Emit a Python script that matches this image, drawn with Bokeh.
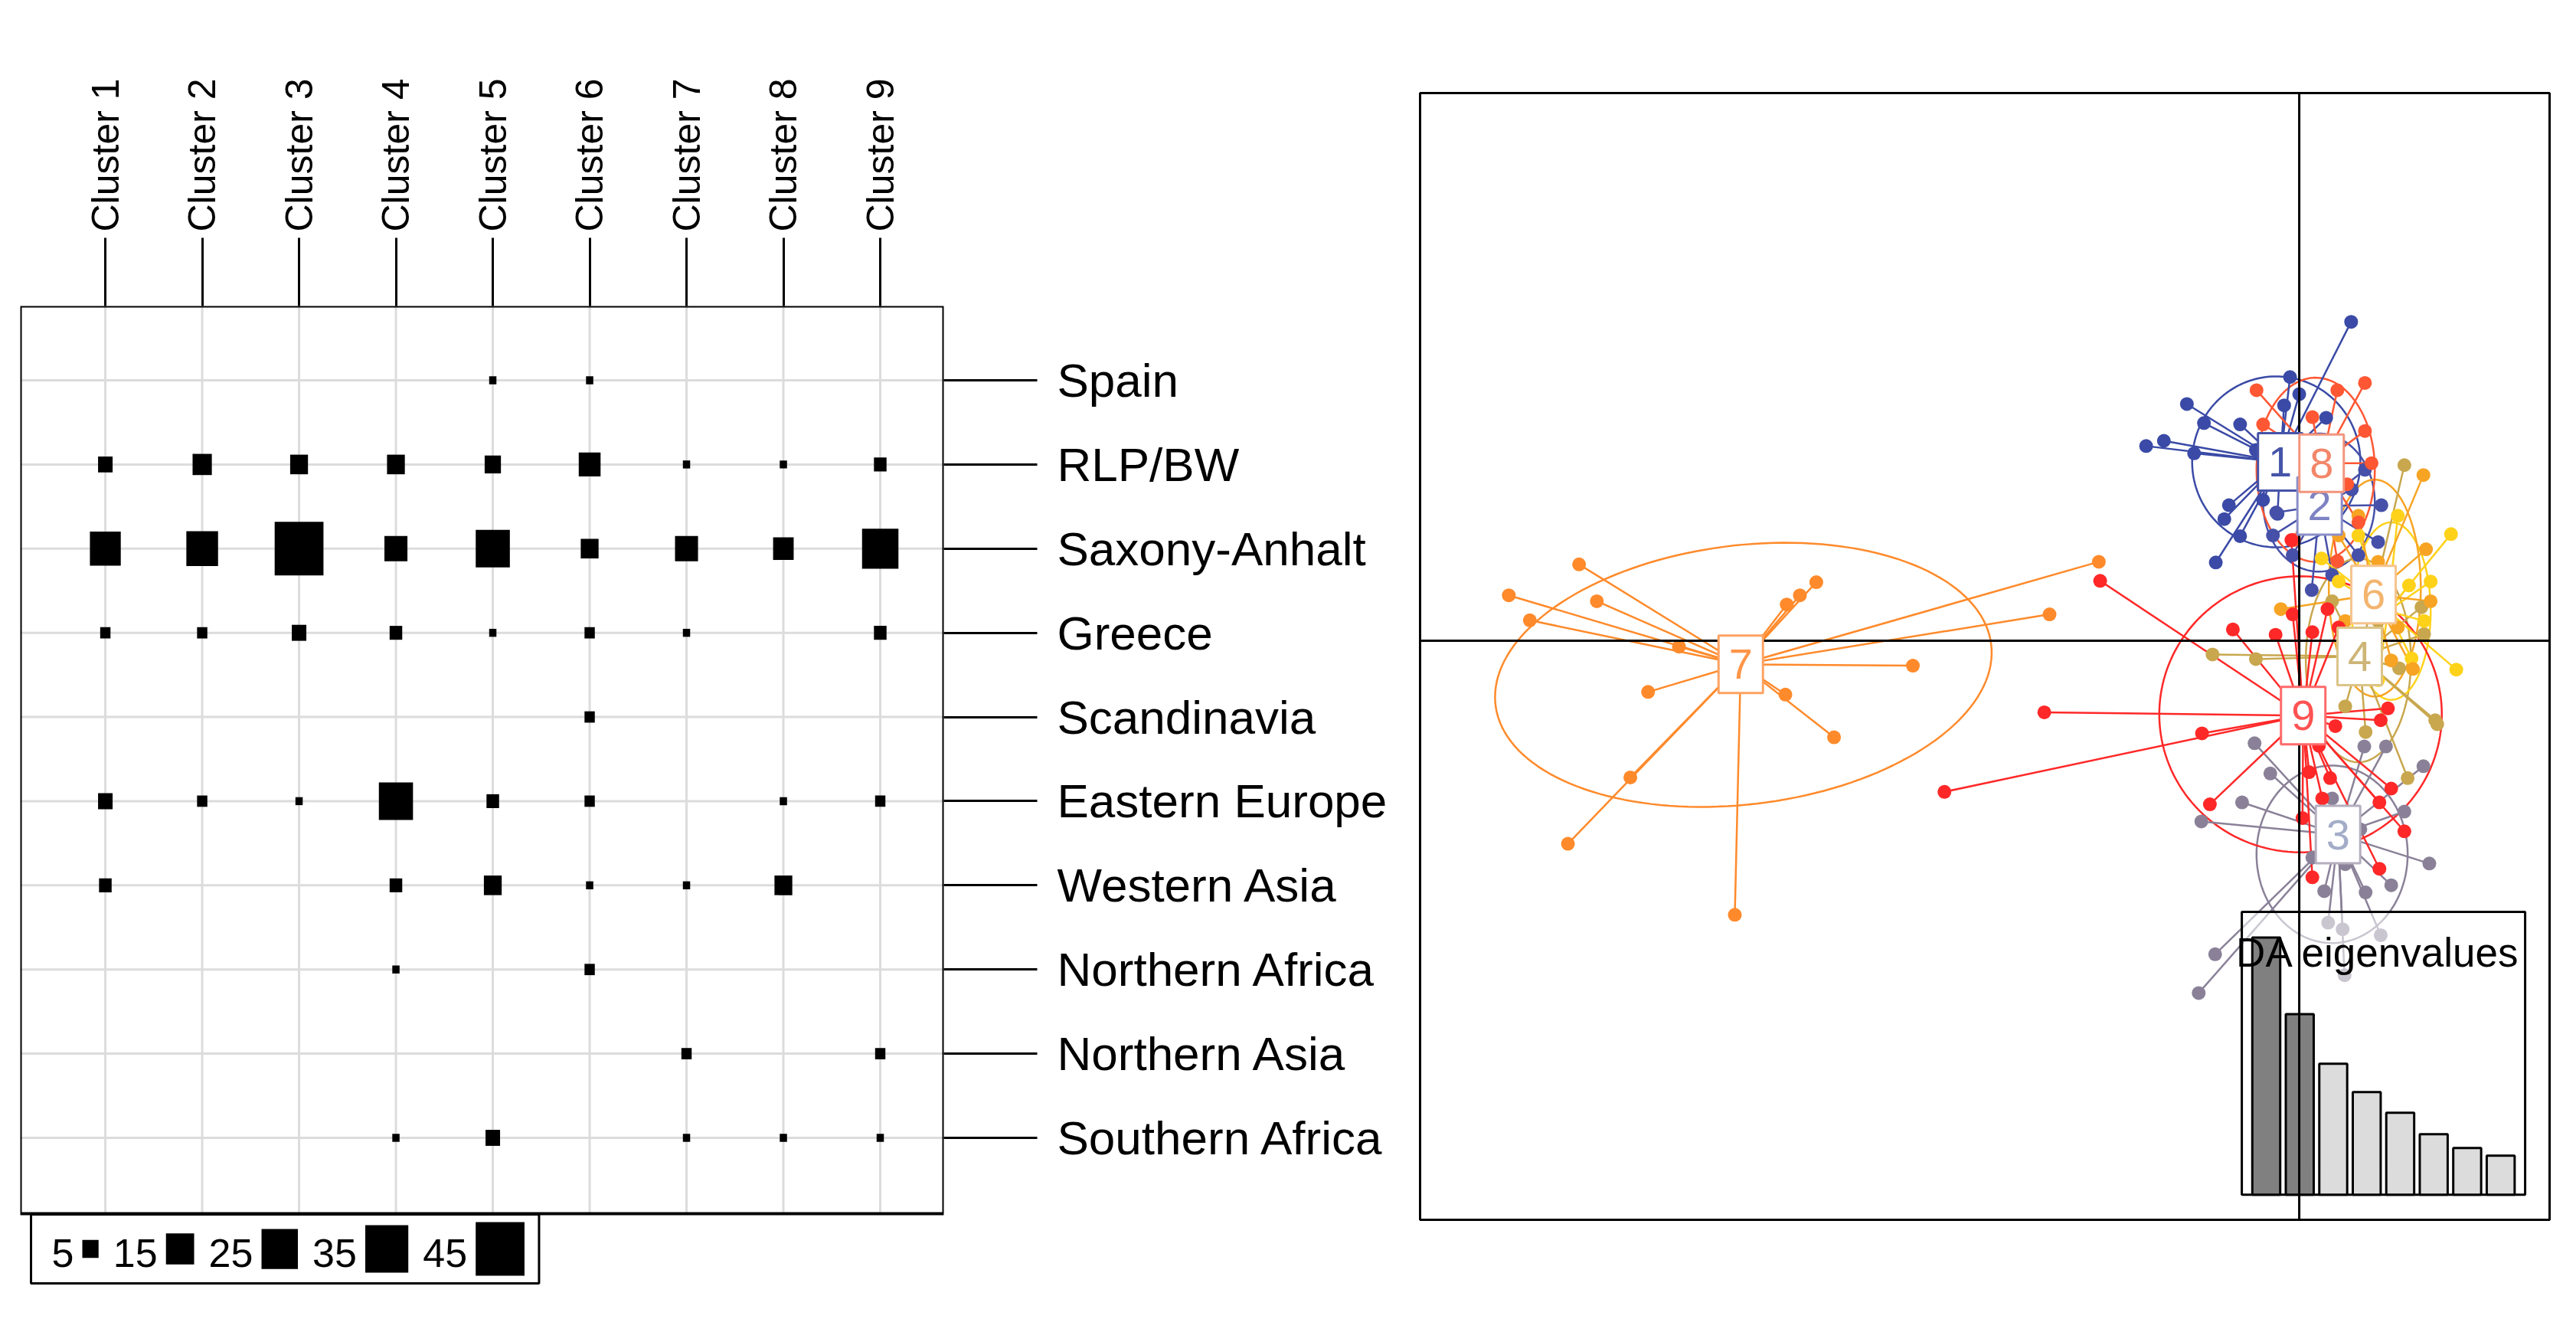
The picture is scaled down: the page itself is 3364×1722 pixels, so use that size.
import math
import numpy as np
from bokeh.plotting import figure
from bokeh.models import Range1d, FixedTicker, LinearAxis, ColumnDataSource
from bokeh.layouts import row, column
from bokeh.embed import file_html
from bokeh.resources import INLINE
from bokeh.core.properties import value

FONT = "Liberation Sans"

# ---------------- left panel: cluster membership table ----------------
clusters = ["Cluster 1", "Cluster 2", "Cluster 3", "Cluster 4", "Cluster 5",
            "Cluster 6", "Cluster 7", "Cluster 8", "Cluster 9"]
regions = ["Spain", "RLP/BW", "Saxony-Anhalt", "Greece", "Scandinavia",
           "Eastern Europe", "Western Asia", "Northern Africa", "Northern Asia",
           "Southern Africa"]
spain           = [0, 0, 0, 0, 1, 1, 0, 0, 0]
rlp_bw          = [4, 7, 6, 6, 5, 9, 1, 1, 3]
saxony_anhalt   = [18, 19, 45, 10, 22, 6, 10, 8, 25]
greece          = [2, 2, 4, 3, 1, 2, 1, 0, 3]
scandinavia     = [0, 0, 0, 0, 0, 2, 0, 0, 0]
eastern_europe  = [4, 2, 1, 22, 3, 2, 0, 1, 2]
western_asia    = [3, 0, 0, 3, 6, 1, 1, 6, 0]
northern_africa = [0, 0, 0, 1, 0, 2, 0, 0, 0]
northern_asia   = [0, 0, 0, 0, 0, 0, 2, 0, 2]
southern_africa = [0, 0, 0, 1, 4, 0, 1, 1, 1]
table_rows = [spain, rlp_bw, saxony_anhalt, greece, scandinavia, eastern_europe,
              western_asia, northern_africa, northern_asia, southern_africa]
legend_values = [5, 15, 25, 35, 45]

# ---------------- right panel: DAPC scatter ----------------
group_ids = ["1", "2", "3", "4", "5", "6", "7", "8", "9"]
c1_x = [-1.71, -2.33, -2.06, -1.45, -0.90, -0.14, 0.00, -0.23, -1.07, -1.14, -0.90, -0.55, -0.66, 0.79, -1.27, 0.41, -0.33, -1.60]
c1_y = [3.60, 2.96, 3.04, 3.31, 3.29, 4.01, 3.75, 3.58, 2.06, 1.85, 1.59, 2.14, 2.90, 4.85, 1.19, 3.39, 1.93, 2.85]
c2_x = [1.25, 0.19, -0.35, 0.90, 0.60, 1.00, -0.10, 0.50, 1.20, 0.80, -0.40]
c2_y = [2.06, 0.77, 1.95, 1.30, 3.00, 2.60, 1.30, 1.00, 1.50, 2.30, 1.60]
c3_x = [-0.68, -0.44, -0.87, -1.49, 0.99, 1.32, 1.89, 1.98, 1.40, 0.93, 0.38, 1.01, 0.44, 0.66, 1.24, -1.28, -1.53, 0.69, 0.20, 0.70, 0.50, 1.60]
c3_y = [-1.56, -2.02, -2.46, -2.75, -1.61, -1.61, -1.91, -3.39, -3.72, -2.87, -3.81, -3.83, -4.29, -4.39, -4.48, -4.77, -5.36, -5.09, -3.30, -3.40, -2.40, -2.60]
c4_x = [1.60, 1.52, -1.32, -0.66, 2.07, 1.86, 2.10, 1.65, 1.01, 0.50, 1.20, 0.70, 1.90]
c4_y = [2.67, -0.42, -0.21, -0.28, -1.21, 0.51, -1.27, -2.09, -1.39, 0.60, 0.30, -1.00, 0.10]
c5_x = [2.31, 0.34, 1.67, 2.39, 1.71, 1.90, 0.90, 1.50, 2.00, 1.20, 0.60]
c5_y = [1.62, 1.25, 0.84, -0.44, -0.27, 0.30, 1.60, 1.90, 0.90, -0.60, 0.90]
c6_x = [1.89, 1.93, -0.28, 1.20, 0.60, 1.50, 0.90, 2.00, 1.40, 0.70, 1.73]
c6_y = [2.52, 1.39, 0.48, 1.20, 1.60, 0.20, 1.90, 0.60, -0.30, 0.30, -0.43]
c7_x = [-10.96, -12.03, -10.69, -11.71, -9.44, -9.91, -10.18, -11.13, -8.59, -7.08, -7.82, -5.88, -3.80, -3.05, -7.35, -7.60, -7.80]
c7_y = [1.16, 0.69, 0.60, 0.31, -0.09, -0.78, -2.08, -3.09, -4.17, -1.47, -0.82, -0.38, 0.40, 1.20, 0.89, 0.69, 0.55]
c8_x = [-0.65, 1.00, 0.58, -0.55, 1.00, 0.20, -0.08, 0.58, 0.73, 0.90, 1.10]
c8_y = [3.81, 3.92, 3.81, 3.29, 3.19, 3.40, 1.53, 1.21, 2.38, 1.80, 2.70]
c9_x = [-1.01, -0.36, 0.20, -0.12, -3.03, 0.43, -3.88, -5.40, -1.48, -1.36, 0.20, 1.40, 1.22, 1.60, 1.22, 0.47, 1.35, 1.24, 0.15, 0.30, 0.35, 0.05, 0.55, -0.10, 0.60]
c9_y = [0.17, 0.09, 0.13, 1.53, 0.91, 0.48, -1.09, -2.30, -1.41, -2.49, -3.60, -2.25, -2.46, -2.90, -3.47, -2.09, -1.03, -1.21, -2.00, -1.60, -2.40, -2.70, -1.30, 0.40, 0.20]
group_x = [c1_x, c2_x, c3_x, c4_x, c5_x, c6_x, c7_x, c8_x, c9_x]
group_y = [c1_y, c2_y, c3_y, c4_y, c5_y, c6_y, c7_y, c8_y, c9_y]
# group label (centroid) positions
center_x = [-0.29, 0.31, 0.59, 0.92, 1.35, 1.13, -8.50, 0.34, 0.06]
center_y = [2.72, 2.05, -2.95, -0.24, 0.45, 0.70, -0.36, 2.70, -1.14]
show_label = [True, True, True, True, False, True, True, True, True]
# inertia ellipses: centre, half-axes, rotation (deg)
ell_cx = [-0.35, 0.30, 0.50, 0.90, 1.40, 1.15, -8.46, 0.25, 0.02]
ell_cy = [2.72, 2.10, -3.25, -0.30, 0.45, 0.80, -0.52, 2.60, -1.12]
ell_a = [1.28, 0.85, 1.15, 0.80, 0.60, 0.70, 3.80, 0.90, 2.15]
ell_b = [1.30, 1.05, 1.35, 1.55, 1.35, 1.65, 1.97, 1.40, 2.10]
ell_ang = [0, 0, 0, 0, 0, 0, 7, 0, 0]
da_eigenvalues = [33.6, 23.6, 17.1, 13.4, 10.7, 7.9, 6.1, 5.1]
n_retained = 2

# styles
point_colors = ["#3A4AA6", "#4650A8", "#8A8198", "#C8A74E", "#FFD21A",
                "#F7A424", "#FF8A2B", "#FF5733", "#FF2828"]
label_colors = ["#4654A8", "#7D82C2", "#A3ADC8", "#CDB577", "#FFD21A",
                "#F3B46E", "#FF9548", "#F3866A", "#FF5252"]
box_colors = ["#4654A8", "#8B8FC8", "#B4AEBE", "#DCC488", "#FFD21A",
              "#F6C48E", "#FFA262", "#F3957E", "#FF6A6A"]

# ======================= LEFT FIGURE =======================
col_idx = list(range(1, len(clusters) + 1))
row_idx = list(range(1, len(regions) + 1))
X_LO, X_HI = 0.122, 9.656          # table border (column units)
Y_TOP, Y_BOT = 0.1174, 10.901      # table border (row units)
PX_X, PX_Y = 126.5, 109.9          # pixels per column / row
Y_EXTRA = 100 / PX_Y               # room for the size legend below the table

pL = figure(output_backend="svg", toolbar_location=None,
            frame_width=1206, frame_height=1285,
            min_border_left=26, min_border_top=399, min_border_right=608,
            min_border_bottom=0,
            x_range=Range1d(X_LO, X_HI), y_range=Range1d(Y_BOT + Y_EXTRA, Y_TOP),
            x_axis_location=None, y_axis_location=None)
pL.grid.visible = False
pL.outline_line_color = None
pL.background_fill_color = "white"
pL.border_fill_color = "white"

# grid lines inside the table
pL.segment(x0=col_idx, x1=col_idx, y0=[Y_TOP] * len(col_idx), y1=[Y_BOT] * len(col_idx),
           line_color="#DCDCDC", line_width=3)
pL.segment(x0=[X_LO] * len(row_idx), x1=[X_HI] * len(row_idx), y0=row_idx, y1=row_idx,
           line_color="#DCDCDC", line_width=3)

top_axis = LinearAxis(ticker=FixedTicker(ticks=col_idx),
                      major_label_overrides={i: c for i, c in zip(col_idx, clusters)})
top_axis.axis_line_color = None
top_axis.major_tick_in = 0
top_axis.major_tick_out = 89
top_axis.major_tick_line_width = 3
top_axis.major_tick_line_color = "black"
top_axis.minor_tick_line_color = None
top_axis.major_label_standoff = 8
top_axis.major_label_orientation = math.pi / 2
top_axis.major_label_text_font = FONT
top_axis.major_label_text_font_size = "50px"
top_axis.major_label_text_color = "black"
pL.add_layout(top_axis, "above")

right_axis = LinearAxis(ticker=FixedTicker(ticks=row_idx),
                        major_label_overrides={i: r for i, r in zip(row_idx, regions)})
right_axis.axis_line_color = None
right_axis.major_tick_in = 0
right_axis.major_tick_out = 122
right_axis.major_tick_line_width = 3
right_axis.major_tick_line_color = "black"
right_axis.minor_tick_line_color = None
right_axis.major_label_standoff = 26
right_axis.major_label_text_font = FONT
right_axis.major_label_text_font_size = "62px"
right_axis.major_label_text_color = "black"
pL.add_layout(right_axis, "right")

K = 9.5  # px per sqrt(count)
sq_x, sq_y, sq_w, sq_h = [], [], [], []
for r, vals in zip(row_idx, table_rows):
    for c, v in zip(col_idx, vals):
        if v > 0:
            s = K * math.sqrt(v)
            sq_x.append(c); sq_y.append(r); sq_w.append(s); sq_h.append(1.1 * s)
pL.rect(x="x", y="y", width="w", height="h", width_units="screen", height_units="screen",
        source=ColumnDataSource(dict(x=sq_x, y=sq_y, w=sq_w, h=sq_h)),
        fill_color="black", line_color=None)

# table border
pL.quad(left=[X_LO], right=[X_HI], top=[Y_TOP], bottom=[Y_BOT],
        fill_color=None, line_color="black", line_width=4)

# size legend below the table (positions in pixels from the table's left edge)
lt_x, lt_t, ls_x, ls_w, ls_h = [], [], [], [], []
cursor = 41.0
for v in legend_values:
    lab = str(v)
    lt_x.append(X_LO + cursor / PX_X); lt_t.append(lab)
    cursor += 29 * len(lab) + 11
    s = K * math.sqrt(v)
    ls_x.append(X_LO + (cursor + s / 2) / PX_X); ls_w.append(s); ls_h.append(1.1 * s)
    cursor += s + 19
leg_top = Y_BOT + 1 / PX_Y
leg_bot = Y_BOT + 91 / PX_Y
leg_mid = Y_BOT + 46 / PX_Y
pL.quad(left=[X_LO + 14 / PX_X], right=[X_LO + cursor / PX_X], top=[leg_top], bottom=[leg_bot],
        fill_color="white", line_color="black", line_width=3)
pL.text(x=lt_x, y=[leg_mid + 5 / PX_Y] * len(lt_x), text=lt_t, text_align="left",
        text_baseline="middle", text_font=value(FONT), text_font_size="52px",
        text_color="black")
pL.rect(x=ls_x, y=[leg_mid] * len(ls_x), width=ls_w, height=ls_h,
        width_units="screen", height_units="screen", fill_color="black", line_color=None)

# ======================= RIGHT FIGURE =======================
xr = (-13.38, 3.81)
yr = (-8.81, 8.33)
pR = figure(output_backend="svg", toolbar_location=None,
            frame_width=1475, frame_height=1471,
            min_border_left=14, min_border_top=121, min_border_right=10, min_border_bottom=10,
            x_range=Range1d(*xr), y_range=Range1d(*yr),
            x_axis_location=None, y_axis_location=None)
pR.grid.visible = False
pR.outline_line_color = "black"
pR.outline_line_width = 3

t = np.linspace(0, 2 * np.pi, 160)
for g in range(len(group_ids)):
    th = math.radians(ell_ang[g])
    ex = ell_cx[g] + ell_a[g] * np.cos(t) * math.cos(th) - ell_b[g] * np.sin(t) * math.sin(th)
    ey = ell_cy[g] + ell_a[g] * np.cos(t) * math.sin(th) + ell_b[g] * np.sin(t) * math.cos(th)
    pR.line(ex, ey, line_color=point_colors[g], line_width=2.5)

for g in range(len(group_ids)):
    n = len(group_x[g])
    pR.segment(x0=[center_x[g]] * n, y0=[center_y[g]] * n, x1=group_x[g], y1=group_y[g],
               line_color=point_colors[g], line_width=2.5)

for g in range(len(group_ids)):
    pR.scatter(group_x[g], group_y[g], size=18, marker="circle",
               fill_color=point_colors[g], line_color=None)

# eigenvalue inset
in_l, in_r, in_t, in_b = -0.874, 3.438, -4.126, -8.427
pR.quad(left=[in_l], right=[in_r], top=[in_t], bottom=[in_b],
        fill_color="white", fill_alpha=0.55, line_color="black", line_width=3)
nb = len(da_eigenvalues)
span_bars = 1.2 * nb - 0.2
ux = (in_r - in_l) / (span_bars * 1.08)
x0u = 0.2 - 0.04 * span_bars
emax = max(da_eigenvalues)
bl, br, bt, bcol = [], [], [], []
for i, ev in enumerate(da_eigenvalues):
    lft = 0.2 + 1.2 * i
    bl.append(in_l + (lft - x0u) * ux)
    br.append(in_l + (lft + 1 - x0u) * ux)
    bt.append(in_b + ev / (1.1 * emax) * (in_t - in_b))
    bcol.append("#808080" if i < n_retained else "#DCDCDC")
pR.quad(left=bl, right=br, top=bt, bottom=[in_b] * nb, fill_color=bcol,
        line_color="black", line_width=3)

# crosshair
pR.segment(x0=[xr[0]], x1=[xr[1]], y0=[0], y1=[0], line_color="black", line_width=3)
pR.segment(x0=[0], x1=[0], y0=[yr[0]], y1=[yr[1]], line_color="black", line_width=3)

pR.text(x=[(in_l + in_r) / 2 - 0.08], y=[in_t - 0.62], text=["DA eigenvalues"],
        text_align="center", text_baseline="middle", text_font=value(FONT),
        text_font_size="53px", text_color="black")

# group labels
for g in range(len(group_ids)):
    if not show_label[g]:
        continue
    pR.rect(x=[center_x[g]], y=[center_y[g]], width=58, height=75,
            width_units="screen", height_units="screen",
            fill_color="white", line_color=box_colors[g], line_width=3)
    pR.text(x=[center_x[g]], y=[center_y[g]], text=[group_ids[g]],
            text_align="center", text_baseline="middle", text_font=value(FONT),
            text_font_size="56px", text_color=label_colors[g])

layout = row(column(pL), column(pR), spacing=0)
open("out.html", "w").write(file_html(layout, INLINE))
